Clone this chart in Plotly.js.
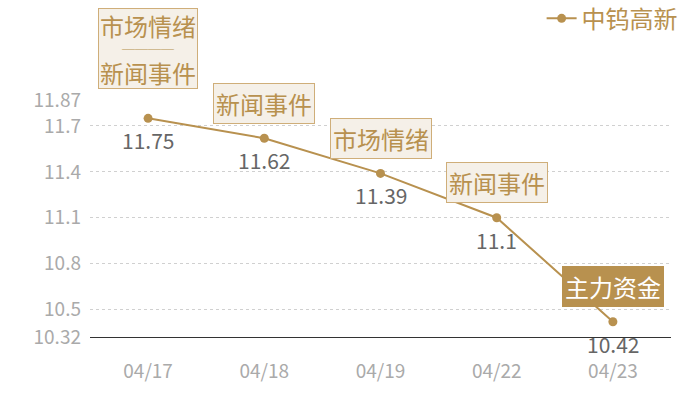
<!DOCTYPE html>
<html>
<head>
<meta charset="utf-8">
<script src="https://cdn.plot.ly/plotly-3.0.1.min.js"></script>
<style>html,body{margin:0;padding:0;background:#fff;}#chart{width:700px;height:400px;}</style>
</head>
<body>
<div id="chart"></div>
<script>
const dates = ['04/17', '04/18', '04/19', '04/22', '04/23'];
const prices = [11.75, 11.62, 11.39, 11.1, 10.42];
const seriesName = '中钨高新';
const yTicks = [10.32, 10.5, 10.8, 11.1, 11.4, 11.7, 11.87];
const eventLabels = [['市场情绪', '新闻事件'], ['新闻事件'], ['市场情绪'], ['新闻事件'], ['主力资金']];

const gold = '#b8914f';
const font = '"Noto Sans CJK SC", "Microsoft YaHei", sans-serif';

const annotations = [];
// value labels below points
dates.forEach((d, i) => {
  annotations.push({
    x: d, y: prices[i], xref: 'x', yref: 'y', text: String(prices[i]),
    showarrow: false, yshift: -22,
    font: {family: font, size: 21, color: '#666666'}
  });
});
// event boxes above points
dates.forEach((d, i) => {
  const labels = eventLabels[i];
  const last = i === dates.length - 1;
  if (labels.length === 1) {
    annotations.push({
      x: d, y: prices[i], xref: 'x', yref: 'y',
      text: labels[0], showarrow: false, yshift: 35,
      font: {family: font, size: 24, color: last ? '#ffffff' : gold},
      bgcolor: last ? gold : '#f5f0e8',
      bordercolor: last ? gold : '#cfae79',
      borderwidth: 1, borderpad: 2
    });
  } else {
    annotations.push({
      x: d, y: prices[i], xref: 'x', yref: 'y', text: ' ',
      showarrow: false, yshift: 70, width: 98, height: 79,
      font: {family: font, size: 24, color: gold},
      bgcolor: '#f5f0e8', bordercolor: '#cfae79', borderwidth: 1, borderpad: 0
    });
    annotations.push({
      x: d, y: prices[i], xref: 'x', yref: 'y', text: labels[0],
      showarrow: false, yshift: 93, font: {family: font, size: 24, color: gold}
    });
    annotations.push({
      x: d, y: prices[i], xref: 'x', yref: 'y', text: '────',
      showarrow: false, yshift: 70, font: {family: font, size: 13, color: gold}
    });
    annotations.push({
      x: d, y: prices[i], xref: 'x', yref: 'y', text: labels[1],
      showarrow: false, yshift: 46, font: {family: font, size: 24, color: gold}
    });
  }
});

const trace = {
  x: dates, y: prices, type: 'scatter', mode: 'lines+markers',
  name: seriesName,
  line: {color: gold, width: 2},
  marker: {color: gold, size: 9},
  cliponaxis: false
};

const layout = {
  width: 700, height: 400,
  margin: {l: 90, r: 29, t: 100, b: 63, autoexpand: false},
  paper_bgcolor: '#ffffff', plot_bgcolor: '#ffffff',
  font: {family: font},
  showlegend: true,
  legend: {x: 1.02, xanchor: 'right', y: 1.343, yanchor: 'middle', orientation: 'h',
    font: {family: font, size: 24, color: gold}, bgcolor: 'rgba(0,0,0,0)', itemwidth: 30},
  xaxis: {type: 'category', range: [-0.5, 4.5], showgrid: false, zeroline: false,
    showline: true, linecolor: '#333333', linewidth: 1, ticks: '',
    tickfont: {family: font, size: 19, color: '#aaaaaa'}, ticklabelstandoff: 17},
  yaxis: {range: [10.32, 11.87], tickmode: 'array', tickvals: yTicks, ticktext: yTicks.map(String),
    showgrid: true, gridcolor: '#d0d0d0', griddash: 'dot', gridwidth: 1, zeroline: false,
    showline: false, ticks: '', tickfont: {family: font, size: 19, color: '#aaaaaa'}, ticklabelstandoff: 8},
  annotations: annotations
};

Plotly.newPlot('chart', [trace], layout, {displayModeBar: false, staticPlot: true});
</script>
</body>
</html>
